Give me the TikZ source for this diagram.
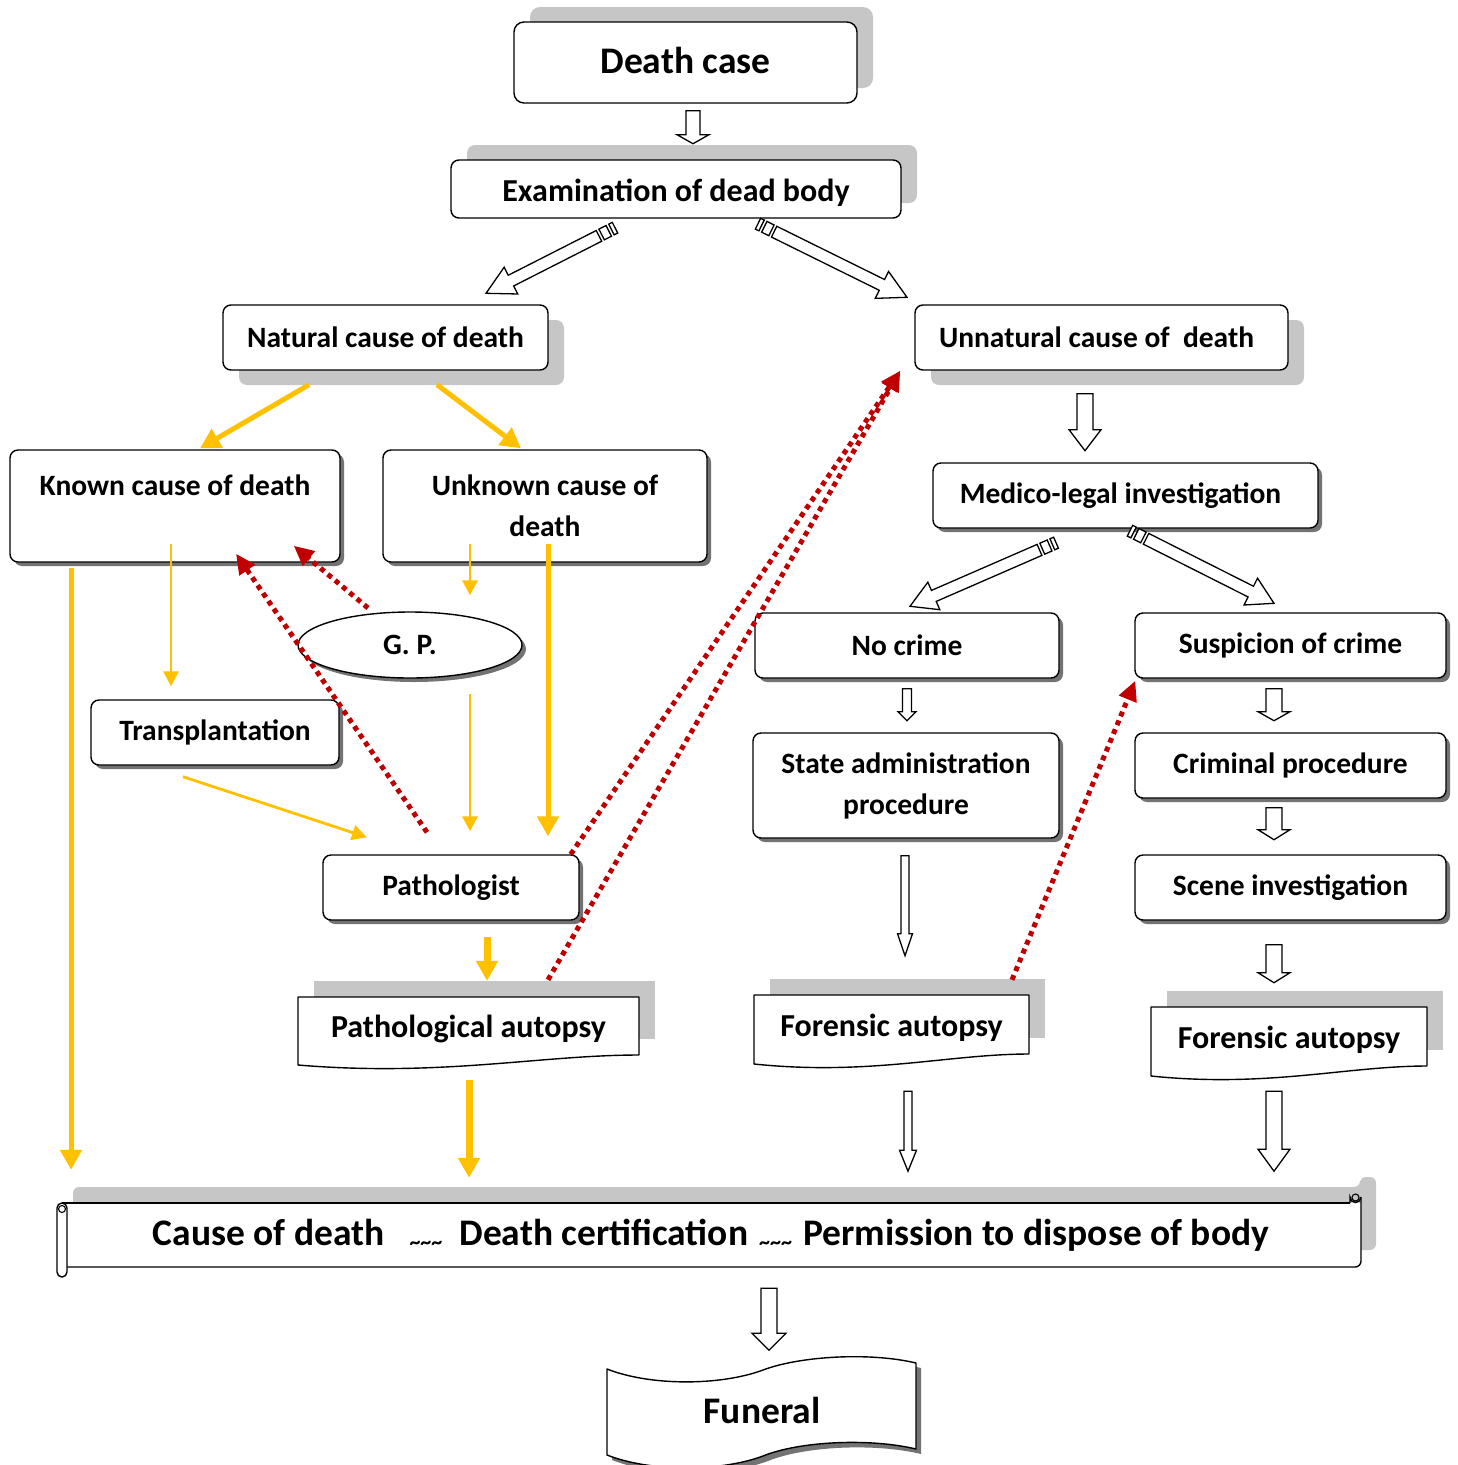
\documentclass[tikz,border=0pt]{standalone}
\usepackage{fontspec}
\setmainfont{Carlito}
\usetikzlibrary{arrows.meta,calc,shapes.geometric,shadows}
\definecolor{ylw}{HTML}{FFC000}
\definecolor{dred}{HTML}{C00000}
\definecolor{shd}{HTML}{C6C6C6}
\newcommand\fsBig{\fontsize{37.5}{42}\selectfont\bfseries}
\newcommand\fsMid{\fontsize{32}{41}\selectfont\bfseries}
\newcommand\fsLbl{\fontsize{29.5}{41}\selectfont\bfseries}
\newcommand\fsScr{\fontsize{37.5}{42}\selectfont\bfseries}
\newcommand\fsTil{\fontsize{22}{22}\selectfont\bfseries}
\newcommand\lowered[2]{\raisebox{-#1}[\height][\depth]{#2}}
% hollow block arrow: from, to, shaft half width, head half width, head length
\newcommand\hollowarrow[5]{%
  \coordinate (ha-c) at ($(#2)!#5!(#1)$);
  \draw[blockarr] ($(#1)!#3!90:(#2)$) -- ($(ha-c)!#3!90:(#2)$) -- ($(ha-c)!#4!90:(#2)$) -- (#2)
    -- ($(ha-c)!#4!-90:(#2)$) -- ($(ha-c)!#3!-90:(#2)$) -- ($(#1)!#3!-90:(#2)$) -- cycle;
}
% striped block arrow
\newcommand\stripedarrow[5]{%
  \coordinate (sa-1) at ($(#1)!4pt!(#2)$);
  \coordinate (sa-2) at ($(#1)!7pt!(#2)$);
  \coordinate (sa-3) at ($(#1)!15pt!(#2)$);
  \coordinate (sa-4) at ($(#1)!18pt!(#2)$);
  \draw[blockarr] ($(#1)!#3!90:(#2)$) -- ($(sa-1)!#3!90:(#2)$) -- ($(sa-1)!#3!-90:(#2)$) -- ($(#1)!#3!-90:(#2)$) -- cycle;
  \draw[blockarr] ($(sa-2)!#3!90:(#2)$) -- ($(sa-3)!#3!90:(#2)$) -- ($(sa-3)!#3!-90:(#2)$) -- ($(sa-2)!#3!-90:(#2)$) -- cycle;
  \hollowarrow{sa-4}{#2}{#3}{#4}{#5}
}
% document shape: x1, x2, ytop, yright
\newcommand\docshape[4]{%
  \fill[shd] ({#1+16},{#3-16}) rectangle ({#2+16},{#4-16});
  \draw[docline] (#1,#3) -- (#2,#3) -- (#2,#4) .. controls ({#2-0.29*(#2-#1)},#4) and ({#1+0.42*(#2-#1)},{#4+22}) .. (#1,{#4+10}) -- cycle;
}
\tikzset{
  box/.style={draw, line width=1.4pt, rounded corners=8pt, fill=white, align=center, inner sep=0pt, font=\fsLbl},
  smallshadow/.style={general shadow={shadow xshift=4pt, shadow yshift=-4pt, fill=black!55}},
  shadowdown/.style={general shadow={shadow xshift=16pt, shadow yshift=-15pt, fill=shd}},
  shadowup/.style={general shadow={shadow xshift=16pt, shadow yshift=15pt, fill=shd}},
  doctext/.style={inner sep=0pt, align=center, font=\fsMid},
  docline/.style={draw, line width=1.4pt, fill=white, line join=round},
  blockarr/.style={draw, fill=white, line width=1.3pt, line join=miter},
  ythin/.style={draw=ylw, line width=2.8pt, -{Triangle[length=15pt,width=15pt]}},
  ythick/.style={draw=ylw, line width=5pt, -{Triangle[length=20pt,width=21pt]}},
  ywide/.style={draw=ylw, line width=7pt, -{Triangle[length=20pt,width=21pt]}},
  rdot/.style={draw=dred, line width=5pt, dash pattern=on 5pt off 4.5pt, -{Triangle[length=20pt,width=18pt]}},
  scrolline/.style={draw, line width=1.4pt},
}
\begin{document}
\begin{tikzpicture}[x=1pt,y=-1pt]
\useasboundingbox (0,0) rectangle (1458,1465);

% ---------- boxes ----------
\node[box, shadowup, rounded corners=10pt, minimum width=343pt, minimum height=81pt, font=\fsBig] (death) at (685.5,62.5) {\raisebox{2pt}[\height][\depth]{Death case}};
\node[box, shadowup, minimum width=450pt, minimum height=58pt, font=\fsMid] (exam) at (676,189) {\lowered{4pt}{Examination of dead body}};
\node[box, shadowdown, minimum width=325pt, minimum height=65pt] (natural) at (385.5,337.5) {Natural cause of death};
\node[box, shadowdown, minimum width=373pt, minimum height=65pt] (unnatural) at (1101.5,337.5) {Unnatural cause of \ death\hspace{10pt}};
\node[box, smallshadow, minimum width=330pt, minimum height=112pt] (known) at (175,506) {Known cause of death\\\mbox{}};
\node[box, smallshadow, minimum width=324pt, minimum height=112pt] (unknown) at (545,506) {Unknown cause of\\death};
\node[box, ellipse, smallshadow, minimum width=224pt, minimum height=66pt] (gp) at (410,645) {G. P.};
\node[box, smallshadow, minimum width=248pt, minimum height=65pt] (transplant) at (215,732.5) {Transplantation};
\node[box, smallshadow, minimum width=256pt, minimum height=65pt] (pathologist) at (451,887.5) {Pathologist};
\node[box, smallshadow, minimum width=385pt, minimum height=65pt] (medico) at (1125.5,495.5) {Medico-legal investigation\hspace{10pt}};
\node[box, smallshadow, minimum width=304pt, minimum height=65pt] (nocrime) at (907,645.5) {No crime};
\node[box, smallshadow, minimum width=311pt, minimum height=65pt] (suspicion) at (1290.5,645.5) {Suspicion of crime};
\node[box, smallshadow, minimum width=306pt, minimum height=105pt] (state) at (906,785.5) {State administration\\procedure};
\node[box, smallshadow, minimum width=311pt, minimum height=65pt] (criminal) at (1290.5,765.5) {Criminal procedure};
\node[box, smallshadow, minimum width=311pt, minimum height=65pt] (scene) at (1290.5,887.5) {Scene investigation};

% ---------- document shapes ----------
\docshape{298}{639}{997}{1055}
\node[doctext, minimum width=341pt, minimum height=58pt] (pathaut) at (468.5,1026) {\lowered{3pt}{Pathological autopsy}};
\docshape{754}{1029}{995}{1054}
\node[doctext, minimum width=275pt, minimum height=59pt] (forensicL) at (891.5,1024.5) {\lowered{3pt}{Forensic autopsy}};
\docshape{1151}{1427}{1007}{1066}
\node[doctext, minimum width=276pt, minimum height=59pt] (forensicR) at (1289,1036.5) {\lowered{3pt}{Forensic autopsy}};

% ---------- scroll ----------
\fill[shd, rounded corners=6pt] (73,1187) -- (1360,1187) -- (1360,1177) -- (1376,1177) -- (1376,1250) -- (73,1250) -- cycle;
\fill[white] (62,1203) rectangle (1361,1267);
\draw[scrolline] (62,1203) -- (1350,1203);
\draw[scrolline, rounded corners=6pt] (67,1267) -- (1361,1267) -- (1361,1197);
\draw[scrolline] (1350,1203) -- (1350,1197) arc (180:0:5.5);
\draw[scrolline, line width=1.1pt] (1355.5,1197.5) circle (3.5);
\draw[scrolline, fill=white, rounded corners=5pt] (57,1203) rectangle (67,1277);
\draw[scrolline, line width=1.1pt] (62,1209) circle (3.5);
\node[inner sep=0pt, minimum width=1299pt, minimum height=64pt, font=\fsScr] (scroll) at (711,1235)
  {Cause of death\hspace{25pt}{\fsTil\raisebox{-4pt}{\textasciitilde\textasciitilde\textasciitilde}}\hspace{17pt}Death certification\hspace{11pt}{\fsTil\raisebox{-4pt}{\textasciitilde\textasciitilde\textasciitilde}}\hspace{11pt}Permission to dispose of body};

% ---------- funeral ----------
\begin{scope}[shift={(5,5)}]
\fill[black!55] (607,1369) .. controls (650,1386) and (720,1386) .. (763,1370) .. controls (800,1356) and (870,1352) .. (916,1363) -- (916,1449) .. controls (870,1438) and (800,1441) .. (763,1456) .. controls (720,1472) and (650,1472) .. (607,1455) -- cycle;
\end{scope}
\draw[docline] (607,1369) .. controls (650,1386) and (720,1386) .. (763,1370) .. controls (800,1356) and (870,1352) .. (916,1363) -- (916,1449) .. controls (870,1438) and (800,1441) .. (763,1456) .. controls (720,1472) and (650,1472) .. (607,1455) -- cycle;
\node[inner sep=0pt, font=\fsBig] (funeral) at (762,1410) {Funeral};

% ---------- hollow block arrows ----------
\coordinate (a1) at ($(death.south)+(7.5,7)$);
\coordinate (b1) at ($(death.south)+(7.5,40)$);
\hollowarrow{a1}{b1}{7pt}{16pt}{9pt}
\coordinate (a2) at ($(exam.south)+(-61,9)$);
\coordinate (b2) at ($(natural.north)+(100.5,-11)$);
\stripedarrow{a2}{b2}{6pt}{15pt}{28pt}
\coordinate (a3) at ($(exam.south)+(82,5)$);
\coordinate (b3) at ($(unnatural.north)+(-194.5,-7)$);
\stripedarrow{a3}{b3}{6pt}{15pt}{28pt}
\coordinate (a4) at ($(unnatural.south)+(-16.5,23)$);
\coordinate (b4) at ($(unnatural.south)+(-16.5,80)$);
\hollowarrow{a4}{b4}{8pt}{16pt}{21pt}
\coordinate (a5) at ($(medico.south)+(-69.5,14)$);
\coordinate (b5) at ($(nocrime.north)+(3,-6)$);
\stripedarrow{a5}{b5}{6pt}{15pt}{26pt}
\coordinate (a6) at ($(medico.south)+(4.5,2)$);
\coordinate (b6) at ($(suspicion.north)+(-16.5,-9)$);
\stripedarrow{a6}{b6}{6pt}{15pt}{26pt}
\coordinate (a7) at ($(nocrime.south)+(0,10)$);
\coordinate (b7) at ($(nocrime.south)+(0,42)$);
\hollowarrow{a7}{b7}{4.5pt}{9pt}{9pt}
\coordinate (a8) at ($(suspicion.south)+(-16.5,10)$);
\coordinate (b8) at ($(suspicion.south)+(-16.5,42)$);
\hollowarrow{a8}{b8}{8pt}{16pt}{9pt}
\coordinate (a9) at ($(criminal.south)+(-16.5,9)$);
\coordinate (b9) at ($(criminal.south)+(-16.5,41)$);
\hollowarrow{a9}{b9}{8pt}{16pt}{10pt}
\coordinate (a10) at ($(scene.south)+(-16.5,24)$);
\coordinate (b10) at ($(scene.south)+(-16.5,62)$);
\hollowarrow{a10}{b10}{8pt}{16pt}{10pt}
\coordinate (a11) at ($(state.south)+(-1,17)$);
\coordinate (b11) at ($(state.south)+(-1,117)$);
\hollowarrow{a11}{b11}{4pt}{7.5pt}{22pt}
\coordinate (a12) at ($(forensicL.south)+(16.5,37)$);
\coordinate (b12) at ($(forensicL.south)+(16.5,117)$);
\hollowarrow{a12}{b12}{4pt}{8.5pt}{21pt}
\coordinate (a13) at ($(forensicR.south)+(-15,25)$);
\coordinate (b13) at ($(forensicR.south)+(-15,105)$);
\hollowarrow{a13}{b13}{8pt}{16pt}{22pt}
\coordinate (a14) at ($(scroll.south)+(58,21)$);
\coordinate (b14) at ($(scroll.south)+(58,83)$);
\hollowarrow{a14}{b14}{8pt}{17pt}{17pt}

% ---------- yellow arrows ----------
\draw[ythick] ($(natural.south)+(-76.5,14)$) -- ($(known.north)+(25,-1)$);
\draw[ythick] ($(natural.south)+(51.5,14)$) -- ($(unknown.north)+(-24,-1)$);
\draw[ythin] ($(known.south)+(-4,-19)$) -- ($(transplant.north)+(-44,-13)$);
\draw[ythin] ($(unknown.south)+(-75,-19)$) -- ($(gp.north)+(60,-16)$);
\draw[ythin] ($(gp.south)+(60,15)$) -- ($(pathologist.north)+(19,-23)$);
\draw[ythick] ($(unknown.south)+(3,-19)$) -- ($(pathologist.north)+(97,-18)$);
\draw[ythin] ($(transplant.south)+(-32,11)$) -- ($(pathologist.north)+(-84,-17)$);
\draw[ythick] ($(known.south)+(-104,5)$) -- ($(scroll.north)+(-640,-33)$);
\draw[ywide] ($(pathologist.south)+(36,16)$) -- ($(pathaut.north)+(18.5,-16)$);
\draw[ywide] ($(pathaut.south)+(0.5,25)$) -- ($(scroll.north)+(-242,-25)$);

% ---------- red dotted arrows ----------
\draw[rdot] ($(gp.center)+(-42,-37)$) -- ($(known.south east)+(-47,-17)$);
\draw[rdot] ($(pathologist.north)+(-24,-22)$) -- ($(known.south)+(61,-9)$);
\draw[rdot] ($(pathologist.north east)+(-9,0)$) -- ($(unnatural.south west)+(-14,0)$);
\draw[rdot] ($(pathaut.north)+(79.5,-17)$) -- ($(unnatural.south west)+(-14,0)$);
\draw[rdot] ($(forensicL.north)+(120.5,-15)$) -- ($(suspicion.south west)+(1,2)$);
\end{tikzpicture}
\end{document}
